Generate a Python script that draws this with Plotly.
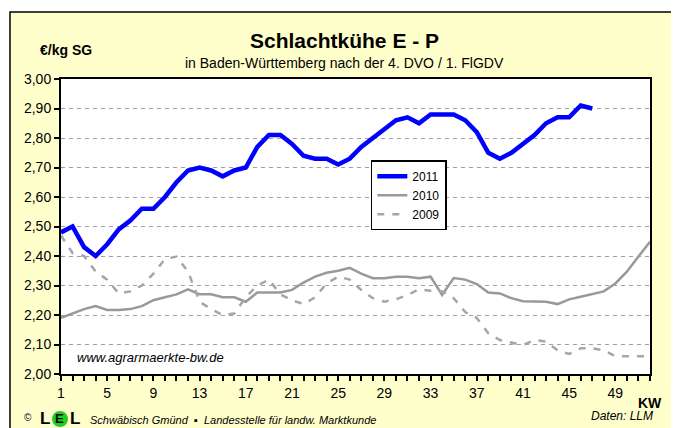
import plotly.graph_objects as go

weeks_2011 = list(range(1, 48))
price_2011 = [2.48, 2.50, 2.43, 2.40, 2.44, 2.49, 2.52, 2.56, 2.56, 2.60,
              2.65, 2.69, 2.70, 2.69, 2.67, 2.69, 2.70, 2.77, 2.81, 2.81,
              2.78, 2.74, 2.73, 2.73, 2.71, 2.73, 2.77, 2.80, 2.83, 2.86,
              2.87, 2.85, 2.88, 2.88, 2.88, 2.86, 2.82, 2.75, 2.73, 2.75,
              2.78, 2.81, 2.85, 2.87, 2.87, 2.91, 2.90]

weeks_2010 = list(range(1, 53))
price_2010 = [2.19, 2.205, 2.22, 2.23, 2.217, 2.217, 2.22, 2.23, 2.25, 2.26,
              2.27, 2.287, 2.27, 2.27, 2.26, 2.26, 2.245, 2.276, 2.276, 2.276,
              2.285, 2.31, 2.33, 2.343, 2.35, 2.36, 2.34, 2.325, 2.325, 2.33,
              2.33, 2.325, 2.33, 2.268, 2.325, 2.32, 2.305, 2.276, 2.273, 2.257,
              2.247, 2.247, 2.245, 2.237, 2.253, 2.262, 2.27, 2.28, 2.307, 2.347,
              2.398, 2.448]

weeks_2009 = list(range(1, 53))
price_2009 = [2.47, 2.41, 2.40, 2.347, 2.32, 2.273, 2.28, 2.30, 2.34, 2.39,
              2.398, 2.347, 2.245, 2.22, 2.20, 2.205, 2.26, 2.30, 2.32, 2.27,
              2.25, 2.237, 2.26, 2.307, 2.33, 2.32, 2.285, 2.257, 2.245, 2.253,
              2.268, 2.287, 2.282, 2.28, 2.257, 2.21, 2.19, 2.138, 2.115, 2.106,
              2.098, 2.115, 2.11, 2.08, 2.068, 2.087, 2.087, 2.08, 2.06, 2.06,
              2.06, 2.06]

x_tick_vals = list(range(1, 53))
x_tick_text = [str(w) if (w - 1) % 4 == 0 else "" for w in x_tick_vals]
y_tick_vals = [2.0, 2.1, 2.2, 2.3, 2.4, 2.5, 2.6, 2.7, 2.8, 2.9, 3.0]

FONT = "Liberation Sans, Arial, sans-serif"

fig = go.Figure()
fig.add_trace(go.Scatter(x=weeks_2011, y=price_2011, name="2011", mode="lines",
                         line=dict(color="#0000FF", width=4.5)))
fig.add_trace(go.Scatter(x=weeks_2010, y=price_2010, name="2010", mode="lines",
                         line=dict(color="#999999", width=2.5)))
fig.add_trace(go.Scatter(x=weeks_2009, y=price_2009, name="2009", mode="lines",
                         line=dict(color="#A6A6A6", width=2.5, dash="7px,8px")))

shapes = [
    dict(type="rect", xref="paper", yref="paper", x0=-0.0866, x1=1.039, y0=-0.25, y1=1.227,
         fillcolor="#FFFFCC", line=dict(color="#000000", width=1.5), layer="below"),
    dict(type="rect", xref="paper", yref="paper", x0=0, x1=1, y0=0, y1=1,
         fillcolor="#FFFFFF", line=dict(width=0), layer="below"),
    dict(type="circle", xref="paper", yref="paper", x0=-0.0153, x1=0.0119, y0=-0.180, y1=-0.125,
         fillcolor="#22CC22", line=dict(width=0), layer="above"),
]

LOGO_Y = -0.151
annotations = [
    dict(text="<b>Schlachtkühe E - P</b>", x=0.482, y=1.132, xref="paper", yref="paper",
         showarrow=False, font=dict(family=FONT, size=21, color="#000000"), xanchor="center", yanchor="middle"),
    dict(text="in Baden-Württemberg nach der 4. DVO / 1. FlGDV", x=0.482, y=1.054, xref="paper", yref="paper",
         showarrow=False, font=dict(family=FONT, size=14, color="#000000"), xanchor="center", yanchor="middle"),
    dict(text="<b>€/kg SG</b>", x=0.0085, y=1.098, xref="paper", yref="paper",
         showarrow=False, font=dict(family=FONT, size=14, color="#000000"), xanchor="center", yanchor="middle"),
    dict(text="<i>www.agrarmaerkte-bw.de</i>", x=0.0238, y=0.0576, xref="paper", yref="paper",
         showarrow=False, font=dict(family=FONT, size=13, color="#000000"), xanchor="left", yanchor="middle"),
    dict(text="<b>KW</b>", x=1.0, y=-0.097, xref="paper", yref="paper",
         showarrow=False, font=dict(family=FONT, size=14, color="#000000"), xanchor="center", yanchor="middle"),
    dict(text="<i>Daten: LLM</i>", x=1.009, y=-0.142, xref="paper", yref="paper",
         showarrow=False, font=dict(family=FONT, size=12, color="#000000"), xanchor="right", yanchor="middle"),
    dict(text="©", x=-0.056, y=-0.147, xref="paper", yref="paper",
         showarrow=False, font=dict(family=FONT, size=10, color="#000000"), xanchor="center", yanchor="middle"),
    dict(text="<b>L</b>", x=-0.0153, y=LOGO_Y, xref="paper", yref="paper",
         showarrow=False, font=dict(family=FONT, size=17, color="#000000"), xanchor="right", yanchor="middle"),
    dict(text="<b>E</b>", x=-0.0017, y=LOGO_Y, xref="paper", yref="paper",
         showarrow=False, font=dict(family=FONT, size=13, color="#000000"), xanchor="center", yanchor="middle"),
    dict(text="<b>L</b>", x=0.0119, y=LOGO_Y, xref="paper", yref="paper",
         showarrow=False, font=dict(family=FONT, size=17, color="#000000"), xanchor="left", yanchor="middle"),
    dict(text="<i>Schwäbisch Gmünd  ▪  Landesstelle für landw. Marktkunde</i>", x=0.046, y=-0.155,
         xref="paper", yref="paper", showarrow=False,
         font=dict(family=FONT, size=11, color="#000000"), xanchor="left", yanchor="middle"),
]

fig.update_layout(
    width=671, height=420,
    margin=dict(l=53, r=29, t=71, b=54),
    paper_bgcolor="#FFFFFF",
    plot_bgcolor="rgba(0,0,0,0)",
    separators=",.",
    font=dict(family=FONT, size=14, color="#000000"),
    shapes=shapes,
    annotations=annotations,
    legend=dict(x=0.526, y=0.725, xanchor="left", yanchor="top",
                bgcolor="#FFFFFF", bordercolor="#000000", borderwidth=1.5,
                font=dict(family=FONT, size=12, color="#000000"),
                tracegroupgap=0),
    showlegend=True,
)

fig.update_xaxes(range=[1, 52], tickmode="array", tickvals=x_tick_vals, ticktext=x_tick_text,
                 ticks="outside", ticklen=5, tickwidth=1.5, tickcolor="#000000",
                 showline=True, linecolor="#000000", linewidth=2, mirror=True,
                 showgrid=False, zeroline=False, tickfont=dict(size=14))
fig.update_yaxes(range=[2.0, 3.0], tickmode="array", tickvals=y_tick_vals, tickformat=".2f",
                 ticks="outside", ticklen=5, tickwidth=1.5, tickcolor="#000000",
                 showline=True, linecolor="#000000", linewidth=2, mirror=True,
                 showgrid=True, gridcolor="#A0A0A0", gridwidth=1, griddash="4px,4px",
                 zeroline=False, tickfont=dict(size=14))

fig.write_html("out.html")
